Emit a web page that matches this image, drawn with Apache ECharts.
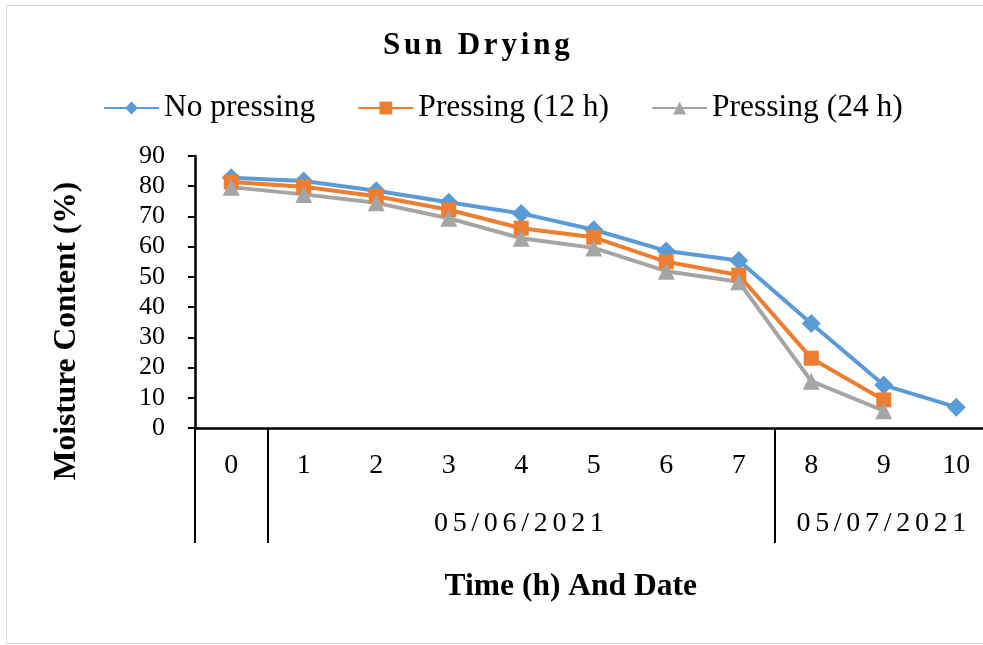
<!DOCTYPE html>
<html>
<head>
<meta charset="utf-8">
<script src="https://cdn.jsdelivr.net/npm/echarts@6/dist/echarts.min.js"></script>
<style>
  html, body { margin: 0; padding: 0; background: #ffffff; overflow: hidden; }
  #frame {
    position: absolute; left: 6px; top: 5px; width: 1200px; height: 637px;
    border: 1.5px solid #d9d9d9; background: #ffffff;
  }
  #chart { position: absolute; left: 0; top: 0; width: 983px; height: 645px; }
</style>
</head>
<body>
<div id="frame"></div>
<div id="chart"></div>
<script>
// Moisture content during sun drying, sampled hourly.
const hours = ['0', '1', '2', '3', '4', '5', '6', '7', '8', '9', '10'];
const noPressing = [82.8, 81.7, 78.5, 74.7, 71.0, 65.6, 58.6, 55.4, 34.6, 14.2, 6.9];
const pressing12 = [81.4, 79.8, 76.7, 72.2, 66.1, 63.1, 55.0, 50.6, 23.1, 9.3];
const pressing24 = [79.7, 77.3, 74.5, 69.4, 62.8, 59.6, 51.9, 48.4, 15.5, 5.7];
const seriesNames = ['No pressing', 'Pressing (12 h)', 'Pressing (24 h)'];
const seriesColors = ['#5b9bd5', '#ed7d31', '#a5a5a5'];
const seriesSymbols = ['diamond', 'rect', 'triangle'];
const seriesSymbolSizes = [19, 15, 17];

// Second row of the category axis: calendar date for each run of hours.
const dates = ['05/06/2021', '05/07/2021'];
const dateSpans = [[1, 7], [8, 10]];

const chartTitle = 'Sun Drying';
const yName = 'Moisture Content (%)';
const xName = 'Time (h) And Date';

const FONT = '"Liberation Serif", "Times New Roman", serif';

// Date label sits under the middle hour of its run; dividers mark where each run begins.
const dateRow = hours.map(() => '');
dateSpans.forEach(([a, b], i) => { dateRow[Math.round((a + b) / 2)] = dates[i]; });
const dividerAt = new Set([0].concat(dateSpans.map(s => s[0])));

// Wide lettering for the heading and the date row; every other string is drawn unspaced.
const spacedText = new Map([[chartTitle, '3.8px']].concat(dates.map(d => [d, '4.7px'])));
const ctxProto = CanvasRenderingContext2D.prototype;
const baseFillText = ctxProto.fillText;
ctxProto.fillText = function (text) {
  this.letterSpacing = spacedText.get(text) || '0px';
  return baseFillText.apply(this, arguments);
};

const values = [noPressing, pressing12, pressing24];

const chart = echarts.init(document.getElementById('chart'), null, { renderer: 'canvas' });
chart.setOption({
  animation: false,
  backgroundColor: 'transparent',
  title: {
    text: chartTitle,
    left: 383,
    top: 30,
    padding: 0,
    textStyle: { fontFamily: FONT, fontSize: 31, fontWeight: 'bold', color: '#000' }
  },
  legend: {
    data: seriesNames,
    left: 103,
    top: 92,
    itemWidth: 55,
    itemHeight: 16,
    itemGap: 42,
    padding: 0,
    textStyle: { fontFamily: FONT, fontSize: 31.5, color: '#000' }
  },
  grid: { left: 195, top: 156, right: -9.5, bottom: 217, containLabel: false, outerBoundsMode: 'none' },
  xAxis: [{
    type: 'category',
    position: 'bottom',
    data: hours,
    boundaryGap: true,
    axisLine: { lineStyle: { color: '#000', width: 2.5 } },
    axisTick: {
      show: true,
      length: 115,
      lineStyle: { color: '#000', width: 2 },
      interval: (idx) => dividerAt.has(idx)
    },
    axisLabel: { interval: 0, margin: 24, fontFamily: FONT, fontSize: 28, color: '#000' },
    name: xName,
    nameLocation: 'middle',
    nameGap: 143,
    nameMoveOverlap: false,
    nameTextStyle: { fontFamily: FONT, fontSize: 31.5, fontWeight: 'bold', color: '#000', padding: [0, 46, 0, 0] }
  }, {
    type: 'category',
    position: 'bottom',
    data: hours,
    boundaryGap: true,
    axisLine: { show: false },
    axisTick: { show: false },
    axisLabel: {
      interval: 0,
      margin: 82,
      fontFamily: FONT,
      fontSize: 28,
      color: '#000',
      formatter: (v, idx) => dateRow[idx]
    }
  }],
  yAxis: {
    type: 'value',
    min: 0,
    max: 90,
    interval: 10,
    splitLine: { show: false },
    axisLine: { show: true, lineStyle: { color: '#000', width: 2.5 } },
    axisTick: { show: true, length: 7, lineStyle: { color: '#000', width: 2 } },
    axisLabel: { margin: 30, fontFamily: FONT, fontSize: 26, color: '#000' },
    name: yName,
    nameLocation: 'middle',
    nameGap: 112,
    nameMoveOverlap: false,
    nameTextStyle: { fontFamily: FONT, fontSize: 31.5, fontWeight: 'bold', color: '#000', padding: [0, 78, 0, 0] }
  },
  series: seriesNames.map((name, i) => ({
    name,
    type: 'line',
    xAxisIndex: 0,
    data: values[i],
    symbol: seriesSymbols[i],
    symbolSize: seriesSymbolSizes[i],
    showAllSymbol: true,
    color: seriesColors[i],
    lineStyle: { width: 4, color: seriesColors[i] },
    itemStyle: { color: seriesColors[i] }
  }))
});
</script>
</body>
</html>
